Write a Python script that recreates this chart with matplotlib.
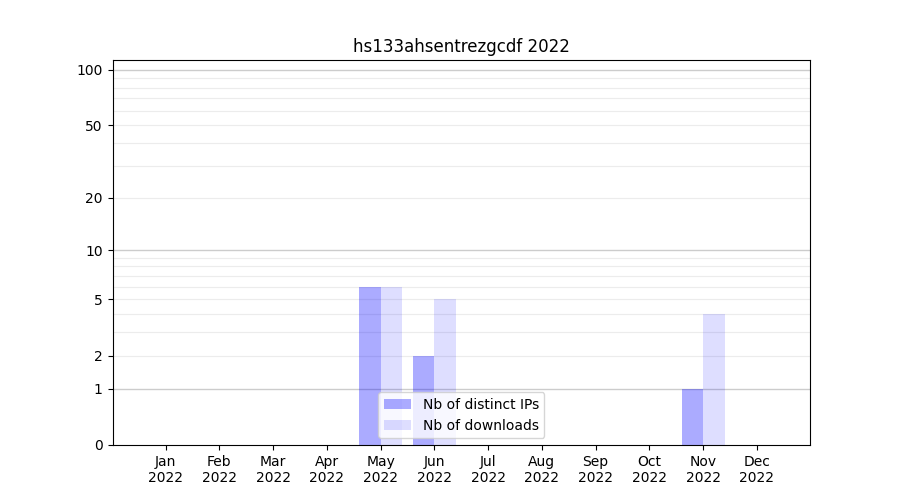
import numpy as np
import matplotlib.pyplot as plt
from matplotlib.ticker import FixedLocator

months = ['Jan', 'Feb', 'Mar', 'Apr', 'May', 'Jun', 'Jul', 'Aug', 'Sep', 'Oct', 'Nov', 'Dec']
year = 2022
distinct_ips = [0, 0, 0, 0, 6, 2, 0, 0, 0, 0, 1, 0]
downloads = [0, 0, 0, 0, 6, 5, 0, 0, 0, 0, 4, 0]

x = np.arange(1, len(months) + 1)
fig, ax = plt.subplots(figsize=(9, 5), dpi=100)

fwd = lambda v: np.log10(1 + np.clip(v, 0, None))
inv = lambda v: 10 ** v - 1
ax.set_yscale('function', functions=(fwd, inv))

ax.bar(x - 0.2, distinct_ips, width=0.4, color='blue', alpha=0.33, label='Nb of distinct IPs', zorder=2)
ax.bar(x + 0.2, downloads, width=0.4, color='blue', alpha=0.13, label='Nb of downloads', zorder=2)

ax.set_ylim(0, 113)
ax.yaxis.set_major_locator(FixedLocator([0, 1, 2, 5, 10, 20, 50, 100]))
ax.yaxis.set_major_formatter(plt.FixedFormatter(['0', '1', '2', '5', '10', '20', '50', '100']))

# grid lines sit behind the bars
for v in [1, 10, 100]:
    ax.axhline(v, color='#cccccc', lw=1, zorder=0.5)
for v in [2, 3, 4, 5, 6, 7, 8, 9, 20, 30, 40, 50, 60, 70, 80, 90]:
    ax.axhline(v, color='#ececec', lw=0.8, zorder=0.5)

ax.set_xticks(x)
ax.set_xticklabels([f'{m}\n{year}' for m in months])
ax.set_title(f'hs133ahsentrezgcdf {year}')
ax.legend(loc='lower center')

fig.savefig('out.png')
